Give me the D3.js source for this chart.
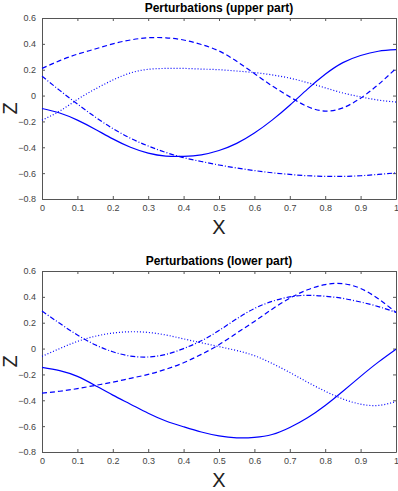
<!DOCTYPE html>
<html>
<head>
<meta charset="utf-8">
<script src="https://cdn.jsdelivr.net/npm/d3@7"></script>
<style>
  body { margin: 0; background: #fff; }
  svg { display: block; font-family: "Liberation Sans", Arial, sans-serif; }
  .tick text { fill: #444; font-size: 9px; }
</style>
</head>
<body>
<svg width="398" height="491"></svg>
<script>
// valores
const xs = [0, 0.05, 0.1, 0.15, 0.2, 0.25, 0.3, 0.35, 0.4, 0.45, 0.5,
            0.55, 0.6, 0.65, 0.7, 0.75, 0.8, 0.85, 0.9, 0.95, 1];

// parte superior
const upperSolid   = [-0.10, -0.135, -0.19, -0.26, -0.335, -0.40, -0.445, -0.468, -0.47, -0.458, -0.425,
                      -0.37, -0.29, -0.19, -0.075, 0.05, 0.165, 0.255, 0.31, 0.343, 0.355];
const upperDashed  = [0.21, 0.27, 0.32, 0.36, 0.40, 0.43, 0.447, 0.447, 0.43, 0.395, 0.345,
                      0.265, 0.17, 0.075, -0.01, -0.085, -0.12, -0.095, -0.02, 0.085, 0.21];
const upperDotted  = [-0.19, -0.12, -0.03, 0.05, 0.12, 0.175, 0.203, 0.21, 0.21, 0.205, 0.20,
                      0.19, 0.178, 0.16, 0.135, 0.10, 0.06, 0.02, -0.01, -0.035, -0.05];
const upperDashDot = [0.15, 0.04, -0.065, -0.165, -0.255, -0.33, -0.39, -0.44, -0.48, -0.51, -0.537,
                      -0.56, -0.58, -0.597, -0.61, -0.62, -0.625, -0.625, -0.62, -0.61, -0.598];

// parte inferior
const lowerSolid   = [-0.145, -0.17, -0.215, -0.285, -0.36, -0.43, -0.50, -0.56, -0.605, -0.645, -0.675,
                      -0.69, -0.687, -0.665, -0.61, -0.535, -0.44, -0.33, -0.215, -0.105, -0.005];
const lowerDashed  = [-0.345, -0.33, -0.31, -0.285, -0.26, -0.23, -0.20, -0.16, -0.11, -0.045, 0.03,
                      0.12, 0.21, 0.305, 0.39, 0.455, 0.495, 0.502, 0.465, 0.385, 0.28];
const lowerDotted  = [-0.06, 0.00, 0.055, 0.095, 0.12, 0.13, 0.125, 0.105, 0.075, 0.045, 0.015,
                      -0.015, -0.055, -0.115, -0.185, -0.26, -0.33, -0.39, -0.43, -0.44, -0.41];
const lowerDashDot = [0.29, 0.195, 0.105, 0.03, -0.025, -0.058, -0.065, -0.045, 0.0, 0.06, 0.14,
                      0.23, 0.31, 0.365, 0.40, 0.412, 0.405, 0.388, 0.36, 0.325, 0.28];

const xTicks = [0, 0.1, 0.2, 0.3, 0.4, 0.5, 0.6, 0.7, 0.8, 0.9, 1];
const yTicks = [-0.8, -0.6, -0.4, -0.2, 0, 0.2, 0.4, 0.6];

const styles = ["none", "5,3", "1,2", "5,2,1,2"];

const panels = [
  { title: "Perturbations (upper part)", top: 18, series: [upperSolid, upperDashed, upperDotted, upperDashDot] },
  { title: "Perturbations (lower part)", top: 271, series: [lowerSolid, lowerDashed, lowerDotted, lowerDashDot] }
];

const svg = d3.select("svg");
const left = 42, right = 396, plotH = 181;

const x = d3.scaleLinear().domain([0, 1]).range([left, right]);

panels.forEach(p => {
  const y = d3.scaleLinear().domain([-0.8, 0.6]).range([p.top + plotH, p.top]);
  const g = svg.append("g");

  // eixos (caixa completa, ticks para dentro)
  const axisStyle = sel => {
    sel.select(".domain").attr("stroke", "#555");
    sel.selectAll(".tick line").attr("stroke", "#555");
  };
  g.append("g").attr("transform", `translate(0,${p.top + plotH})`)
    .call(d3.axisBottom(x).tickValues(xTicks).tickSize(-3).tickPadding(6).tickSizeOuter(0)
      .tickFormat(d3.format("")))
    .call(axisStyle);
  g.append("g").attr("transform", `translate(0,${p.top})`)
    .call(d3.axisTop(x).tickValues(xTicks).tickSize(-3).tickSizeOuter(0).tickFormat(""))
    .call(axisStyle);
  g.append("g").attr("transform", `translate(${left},0)`)
    .call(d3.axisLeft(y).tickValues(yTicks).tickSize(-3).tickPadding(6).tickSizeOuter(0)
      .tickFormat(d3.format("")))
    .call(axisStyle);
  g.append("g").attr("transform", `translate(${right},0)`)
    .call(d3.axisRight(y).tickValues(yTicks).tickSize(-3).tickSizeOuter(0).tickFormat(""))
    .call(axisStyle);
  g.selectAll(".tick text").attr("fill", "#444").style("font-size", "9px");

  const line = d3.line()
    .x((d, i) => x(xs[i]))
    .y(d => y(d))
    .curve(d3.curveNatural);

  p.series.forEach((s, i) => {
    g.append("path")
      .datum(s)
      .attr("d", line)
      .attr("fill", "none")
      .attr("stroke", "#0000ff")
      .attr("stroke-width", 1.2)
      .attr("stroke-dasharray", styles[i]);
  });

  g.append("text")
    .attr("x", (left + right) / 2)
    .attr("y", p.top - 6)
    .attr("text-anchor", "middle")
    .style("font-size", "12px")
    .style("font-weight", "bold")
    .text(p.title);

  g.append("text")
    .attr("x", (left + right) / 2)
    .attr("y", p.top + plotH + 35)
    .attr("text-anchor", "middle")
    .style("font-size", "20px")
    .attr("fill", "#222")
    .text("X");

  g.append("text")
    .attr("transform", `translate(17,${y(-0.1)}) rotate(-90)`)
    .attr("text-anchor", "middle")
    .style("font-size", "20px")
    .attr("fill", "#222")
    .text("Z");
});
</script>
</body>
</html>
